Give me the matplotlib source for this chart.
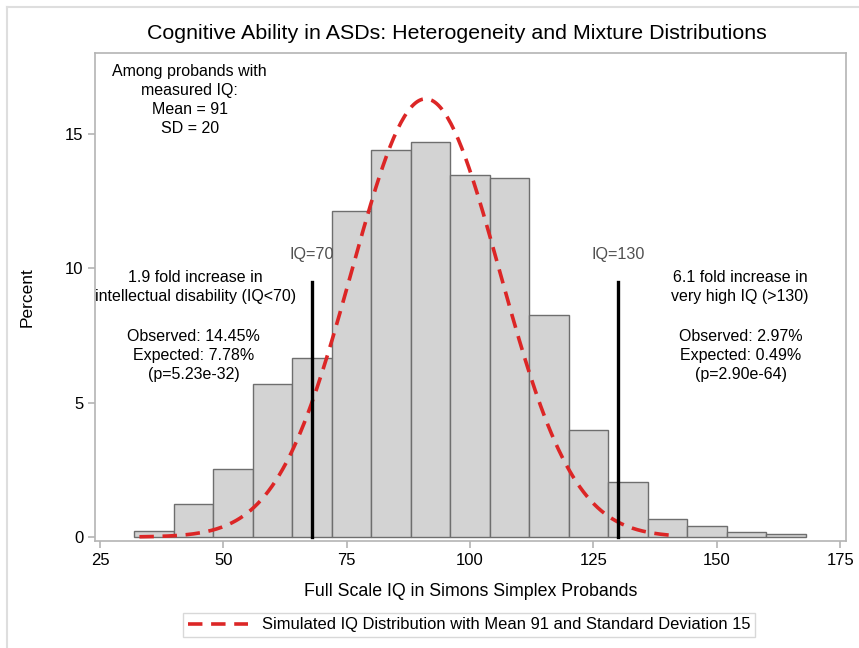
import numpy as np
import matplotlib
matplotlib.use("Agg")
import matplotlib.pyplot as plt
from matplotlib.lines import Line2D

plt.rcParams['font.family'] = ['Liberation Sans', 'DejaVu Sans']

# histogram of full scale IQ (percent per 8-point bin)
bin_edges = [32, 40, 48, 56, 64, 72, 80, 88, 96, 104, 112, 120, 128, 136, 144, 152, 160, 168]
percent = [0.22, 1.23, 2.53, 5.69, 6.65, 12.12, 14.39, 14.68, 13.46, 13.35,
           8.25, 3.98, 2.06, 0.66, 0.42, 0.17, 0.11]

# simulated normal curve
sim_mean = 91
sim_sd = 15
sim_peak = 16.3
sim_range = (33, 141.5)

# cutoff lines
cut_x = [68, 130]
cut_top = 9.5
cut_labels = ["IQ=70", "IQ=130"]

fig = plt.figure(figsize=(8.59, 6.48), dpi=100)
ax = fig.add_axes([0.1106, 0.165, 0.8744, 0.753])

widths = np.diff(bin_edges)
ax.bar(bin_edges[:-1], percent, width=widths, align='edge', color='#d3d3d3',
       edgecolor='#6e6e6e', linewidth=1.0, zorder=2)

xs = np.linspace(sim_range[0], sim_range[1], 300)
ys = sim_peak * np.exp(-0.5 * ((xs - sim_mean) / sim_sd) ** 2)
ax.plot(xs, ys, color='#dc2626', linewidth=2.6, dashes=(4, 2.4), zorder=4)

for xc in cut_x:
    ax.plot([xc, xc], [0, cut_top], color='black', linewidth=2.4, zorder=5)
for xc, lab in zip(cut_x, cut_labels):
    ax.text(xc, 10.5, lab, ha='center', va='center', fontsize=11.6, color='#505050')

ax.text(43.2, 17.58, "Among probands with\nmeasured IQ:\nMean = 91\nSD = 20",
        ha='center', va='top', fontsize=11.5, linespacing=1.32)

ax.text(44.3, 9.31, "1.9 fold increase in\nintellectual disability (IQ<70)",
        ha='center', va='center', fontsize=11.5, linespacing=1.3)
ax.text(44.0, 6.76, "Observed: 14.45%\nExpected: 7.78%\n(p=5.23e-32)",
        ha='center', va='center', fontsize=11.5, linespacing=1.33)

ax.text(154.7, 9.31, "6.1 fold increase in\nvery high IQ (>130)",
        ha='center', va='center', fontsize=11.5, linespacing=1.3)
ax.text(154.9, 6.76, "Observed: 2.97%\nExpected: 0.49%\n(p=2.90e-64)",
        ha='center', va='center', fontsize=11.5, linespacing=1.33)

ax.set_xlim(24, 176.2)
ax.set_ylim(-0.15, 18.0)
ax.set_xticks([25, 50, 75, 100, 125, 150, 175])
ax.set_yticks([0, 5, 10, 15])
for s in ax.spines.values():
    s.set_color('#b4b4b4')
    s.set_linewidth(1.2)
ax.tick_params(colors='#b4b4b4', labelcolor='black', labelsize=12, length=5, width=1.2)

ax.set_xlabel("Full Scale IQ in Simons Simplex Probands", fontsize=12.8, labelpad=11)
ax.set_ylabel("Percent", fontsize=12.5, labelpad=22)
fig.text(0.532, 0.949, "Cognitive Ability in ASDs: Heterogeneity and Mixture Distributions",
         ha='center', va='center', fontsize=15.4)

handle = Line2D([], [], color='#dc2626', linewidth=2.6, dashes=(4, 2.4))
leg = fig.legend([handle], ["Simulated IQ Distribution with Mean 91 and Standard Deviation 15"],
                 loc='center', bbox_to_anchor=(469 / 859, 1 - 625 / 648), fontsize=11.9,
                 frameon=True, fancybox=False, handlelength=3.65, borderpad=0.3)
leg.get_frame().set_edgecolor('#cfcfcf')
leg.get_frame().set_linewidth(1.0)

# outer frame
fig.add_artist(Line2D([7 / 859, 7 / 859], [0, 1 - 7 / 648], color='#dedede', linewidth=1.5))
fig.add_artist(Line2D([7 / 859, 1], [1 - 7 / 648, 1 - 7 / 648], color='#dedede', linewidth=1.5))

fig.savefig("out.png", dpi=100)
